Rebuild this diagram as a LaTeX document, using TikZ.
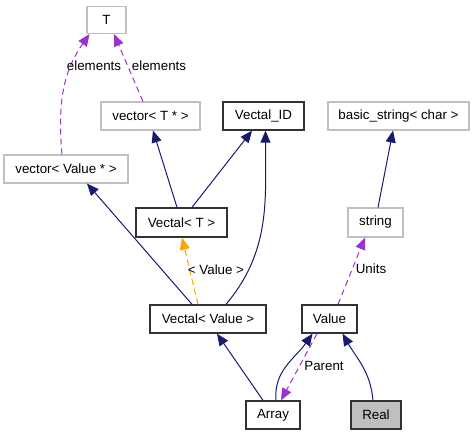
\documentclass[tikz,border=0pt]{standalone}
\usepackage{fontspec}
\setmainfont{Liberation Sans}
\usetikzlibrary{arrows.meta}
\definecolor{navy}{RGB}{25,25,112}
\definecolor{orchid}{RGB}{154,50,205}
\definecolor{orng}{RGB}{255,165,0}
\definecolor{gbord}{RGB}{191,191,191}
\definecolor{bbord}{RGB}{50,50,50}
\begin{document}
\begin{tikzpicture}[x=0.75pt,y=-0.75pt,
  font=\fontsize{10}{12}\selectfont,
  xs/.style={xshift=#1*0.75pt},
  box/.style={draw=bbord,line width=1pt,inner sep=0pt,align=center},
  gbox/.style={draw=gbord,line width=0.8pt,inner sep=0pt,align=center},
  inh/.style={navy,line width=0.75pt,-{Triangle[length=9pt,width=7.5pt]}},
  use/.style={orchid,line width=0.75pt,dash pattern=on 4.5pt off 3pt,-{Triangle[length=9pt,width=7.5pt]}},
  tmpl/.style={orng,line width=0.75pt,dash pattern=on 4.5pt off 3pt,-{Triangle[length=9pt,width=7.5pt]}},
  lbl/.style={inner sep=0pt,text=black}]
\useasboundingbox (0,0) rectangle (475,435);
\node[gbox,minimum width=29.25pt,minimum height=20.25pt] (T) at (106.5,20) {T};
\node[gbox,minimum width=74.25pt,minimum height=21pt] (vecT) at (150.5,116) {vector< T * >};
\node[gbox,minimum width=93pt,minimum height=21pt] (vecV) at (66,169) {vector< Value * >};
\node[box,minimum width=60.75pt,minimum height=21pt] (VID) at (263.5,116) {Vectal\_ID};
\node[gbox,minimum width=105.75pt,minimum height=21pt] (bstr) at (398.5,116) {basic\_string< char >};
\node[box,minimum width=68.25pt,minimum height=21.75pt] (VT) at (181.5,222.5) {Vectal< T >};
\node[gbox,minimum width=41.25pt,minimum height=21.75pt] (str) at (375.5,222.5) {string};
\node[box,minimum width=87pt,minimum height=21pt] (VV) at (208,319) {Vectal< Value >};
\node[box,minimum width=41.25pt,minimum height=21pt] (Val) at (329.5,319) {Value};
\node[box,minimum width=40.5pt,minimum height=21pt] (Arr) at (273,415) {Array};
\node[box,fill=gbord,minimum width=37.5pt,minimum height=21pt] (Real) at (376,415) {Real};

\draw[use] ([xs=-7.5]vecT.north) -- ([xs=7.5]T.south);
\node[lbl] (l1) at (159,66) {elements};
\draw[use] ([xs=-4]vecV.north) to[out=95,in=-125] ([xs=-17]T.south);
\node[lbl] (l2) at (94,66) {elements};
\draw[inh] ([xs=-4.5]VT.north) -- ([xs=2.5]vecT.south);
\draw[inh] ([xs=10.5]VT.north) -- ([xs=-11.5]VID.south);
\draw[inh] ([xs=18]VV.north) to[out=50,in=-90] ([xs=2]VID.south);
\draw[inh] ([xs=-16]VV.north) -- ([xs=21]vecV.south);
\draw[tmpl] ([xs=-10]VV.north) -- ([xs=0.5]VT.south);
\node[lbl] (l3) at (216,270) {< Value >};
\draw[inh] ([xs=2.5]str.north) -- ([xs=-5.5]bstr.south);
\draw[use] ([xs=8.5]Val.north) -- ([xs=-10.5]str.south);
\node[lbl] (l4) at (371,269) {Units};
\draw[inh] ([xs=-10]Arr.north) -- ([xs=9]VV.south);
\draw[inh] ([xs=3]Arr.north) to[out=95,in=-125] ([xs=-17]Val.south);
\draw[use] ([xs=-12.5]Val.south) -- ([xs=8]Arr.north);
\node[lbl] (l5) at (324,366) {Parent};
\draw[inh] ([xs=-3]Real.north) to[out=95,in=-60] ([xs=13]Val.south);
\end{tikzpicture}
\end{document}
